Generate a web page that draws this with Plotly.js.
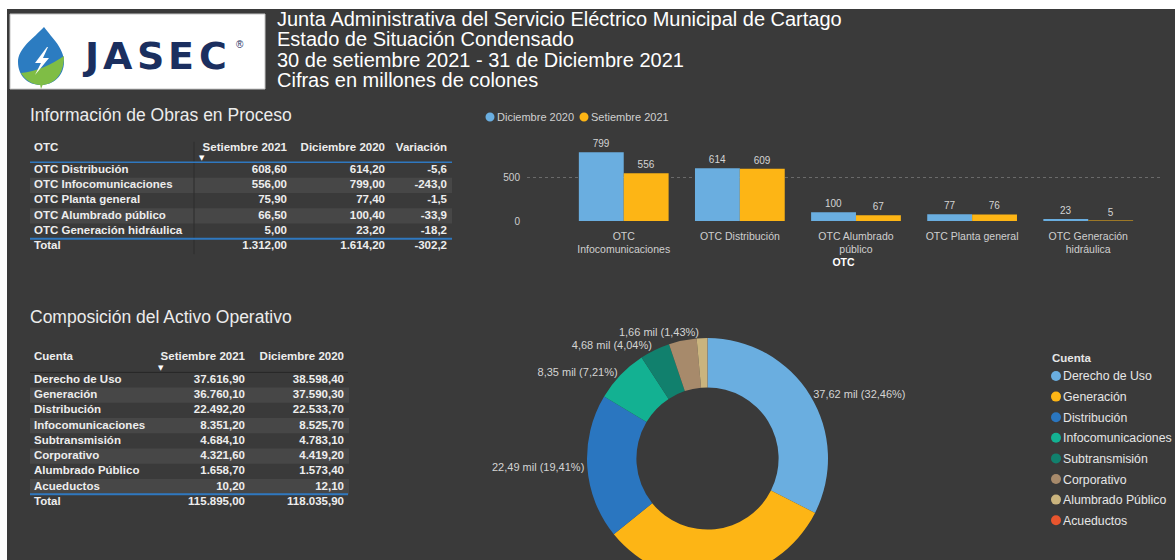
<!DOCTYPE html>
<html><head><meta charset="utf-8">
<script src="https://cdn.plot.ly/plotly-3.0.1.min.js"></script>
<style>html,body{margin:0;padding:0;background:#fff;overflow:hidden;width:1175px;height:560px}#chart{width:1175px;height:600px}</style>
</head><body><div id="chart"></div><script>
// ---------- data ----------
const otcNames = ['OTC Distribución','OTC Infocomunicaciones','OTC Planta general','OTC Alumbrado público','OTC Generación hidráulica'];
const otcChartLabels = ['OTC Distribución','OTC<br>Infocomunicaciones','OTC Planta general','OTC Alumbrado<br>público','OTC Generación<br>hidráulica'];
const otcSet2021 = [608.60, 556.00, 75.90, 66.50, 5.00];
const otcDic2020 = [614.20, 799.00, 77.40, 100.40, 23.20];
const otcVariacion = [-5.6, -243.0, -1.5, -33.9, -18.2];
const otcTotal = [1312.00, 1614.20, -302.2];
const otcHeaders = ['OTC','Setiembre 2021','Diciembre 2020','Variación'];
const seriesNames = ['Diciembre 2020','Setiembre 2021'];
const yTicks = [0, 500];

const cuentaNames = ['Derecho de Uso','Generación','Distribución','Infocomunicaciones','Subtransmisión','Corporativo','Alumbrado Público','Acueductos'];
const cuentaSet2021 = [37616.90, 36760.10, 22492.20, 8351.20, 4684.10, 4321.60, 1658.70, 10.20];
const cuentaDic2020 = [38598.40, 37590.30, 22533.70, 8525.70, 4783.10, 4419.20, 1573.40, 12.10];
const cuentaTotal = [115895.00, 118035.90];
const cuentaHeaders = ['Cuenta','Setiembre 2021','Diciembre 2020'];
const donutLabelShown = [true,true,true,true,true,false,true,false];

const titleLines = ['Junta Administrativa del Servicio Eléctrico Municipal de Cartago','Estado de Situación Condensado','30 de setiembre 2021 - 31 de Diciembre 2021','Cifras en millones de colones'];

// ---------- style / layout constants ----------
const W=1175, H=600;
const X=p=>p/W, Y=p=>1-p/H;
const BG='#3a3a3a', STRIPE='#474747', F='Liberation Sans, Arial, sans-serif';
const BLUE_LINE='#2f78c0';
const seriesColors = ['#6aaee0','#fdb515'];
const cuentaColors = ['#6aaee0','#fdb515','#2a76c0','#13b192','#11806d','#a78a6b','#cab47e','#e8552e'];
const TBL1 = {left:30, right:455, top:134, bottom:262, row0:170, rowH:15.3, headerRow:-1.44, colX:[34,287,385,447]};
const TBL2 = {left:30, right:352, top:344, bottom:515, row0:380, rowH:15.25, headerRow:-1.51, colX:[34,245,344]};

function fmt(v,d){const s=Math.abs(v).toFixed(d);let p=s.split('.');let i=p[0].replace(/\B(?=(\d{3})+(?!\d))/g,'.');return (v<0?'-':'')+i+(p[1]?','+p[1]:'');}
function P(str){return str.replace(/(-?\d+\.?\d*),(-?\d+\.?\d*)/g,(m,a,b)=>X(+a).toFixed(5)+','+Y(+b).toFixed(5));}

const traces = [];
const shapes = [
  {type:'rect', xref:'paper', yref:'paper', x0:X(7), x1:1, y0:0, y1:Y(9), fillcolor:BG, line:{width:0}, layer:'below'},
  {type:'rect', xref:'paper', yref:'paper', x0:X(10), x1:X(265), y0:Y(89), y1:Y(14), fillcolor:'#ffffff', line:{width:1,color:'#c4c4c4'}, layer:'below'},
  {type:'path', xref:'paper', yref:'paper', path:P('M44,27 C52,38 64,48 64,62 C64,76 53,85 41,85 C28,85 18,76 18,62 C18,48 34,38 44,27 Z'), fillcolor:'#2c7cc1', line:{width:0}, layer:'below'},
  {type:'path', xref:'paper', yref:'paper', path:P('M64,56 C64,76 53,85 41,85 C32,85 25,80 21,73 C36,72 52,64 64,56 Z'), fillcolor:'#7fbd45', line:{width:0}, layer:'below'},
  {type:'path', xref:'paper', yref:'paper', path:P('M40,84 L41,89 L43,84 Z'), fillcolor:'#7fbd45', line:{width:0}, layer:'below'},
  {type:'path', xref:'paper', yref:'paper', path:P('M47,47 L35,63 L41,63 L35,75 L49,58 L43,58 L48,47 Z'), fillcolor:'#ffffff', line:{width:0}, layer:'below'}
];
const ann = [];

// ---------- bar chart ----------
const order = otcDic2020.map((v,i)=>i).sort((a,b)=>otcDic2020[b]-otcDic2020[a]);
const barCats = order.map(i=>otcChartLabels[i]);
const barSeries = [order.map(i=>otcDic2020[i]), order.map(i=>otcSet2021[i])];
barSeries.forEach((ys,k)=>traces.push({
  type:'bar', x:barCats, y:ys, name:seriesNames[k], marker:{color:seriesColors[k]},
  texttemplate:'%{y:.0f}', textposition:'outside', constraintext:'none', cliponaxis:false,
  textfont:{family:F,size:10,color:'#d4d4d4'}, hoverinfo:'skip', xaxis:'x', yaxis:'y'
}));
// bar legend
const barLegendX = [490, 584];
seriesNames.forEach((n,k)=>{
  shapes.push({type:'circle', xref:'paper', yref:'paper', xsizemode:'pixel', ysizemode:'pixel', xanchor:X(barLegendX[k]), yanchor:Y(117), x0:-4.5,x1:4.5,y0:-4.5,y1:4.5, fillcolor:seriesColors[k], line:{width:0}});
  ann.push({xref:'paper',yref:'paper',x:X(barLegendX[k]+5),y:Y(117.5),xanchor:'left',yanchor:'middle',showarrow:false,text:n,font:{family:F,size:11,color:'#d0d0d0'}});
});

// ---------- tables (text traces on hidden axes, one row per index) ----------
function addTable(T, headers, cols, nData, xa, ya) {
  const ys = [T.headerRow, ...cols[0].map((v,i)=>i)];
  cols.forEach((col,c)=>traces.push({
    type:'scatter', mode:'text', xaxis:xa, yaxis:ya, x:ys.map(()=>T.colX[c]), y:ys,
    text:[headers[c], ...col], textposition: c===0?'middle right':'middle left', cliponaxis:false,
    textfont:{family:F,size:11.5,color:'#ededed',weight:'bold'}, hoverinfo:'skip'
  }));
  for(let i=0;i<nData;i++) if(i%2===1) shapes.push({type:'rect', xref:'paper', yref:ya, x0:X(T.left), x1:X(T.right-3), y0:i-0.5, y1:i+0.5, fillcolor:STRIPE, line:{width:0}, layer:'below'});
}
const t1Cols = [
  [...otcNames,'Total'],
  [...otcSet2021.map(v=>fmt(v,2)), fmt(otcTotal[0],2)],
  [...otcDic2020.map(v=>fmt(v,2)), fmt(otcTotal[1],2)],
  [...otcVariacion.map(v=>fmt(v,1)), fmt(otcTotal[2],1)]
];
addTable(TBL1, otcHeaders, t1Cols, otcNames.length, 'x2', 'y2');
shapes.push({type:'line', xref:'paper', yref:'y2', x0:X(30), x1:X(452), y0:-0.5, y1:-0.5, line:{color:BLUE_LINE,width:1.5}});
shapes.push({type:'line', xref:'paper', yref:'y2', x0:X(30), x1:X(452), y0:otcNames.length-0.5, y1:otcNames.length-0.5, line:{color:BLUE_LINE,width:2}});
shapes.push({type:'line', xref:'paper', yref:'y2', x0:X(194), x1:X(194), y0:TBL1.headerRow-0.4, y1:otcNames.length+0.5, line:{color:'#2c2c2c',width:1}, layer:'below'});

const t2Cols = [
  [...cuentaNames,'Total'],
  [...cuentaSet2021.map(v=>fmt(v,2)), fmt(cuentaTotal[0],2)],
  [...cuentaDic2020.map(v=>fmt(v,2)), fmt(cuentaTotal[1],2)]
];
addTable(TBL2, cuentaHeaders, t2Cols, cuentaNames.length, 'x3', 'y3');
shapes.push({type:'line', xref:'paper', yref:'y3', x0:X(30), x1:X(348), y0:-0.5, y1:-0.5, line:{color:'#262626',width:1}});
shapes.push({type:'line', xref:'paper', yref:'y3', x0:X(30), x1:X(348), y0:cuentaNames.length-0.5, y1:cuentaNames.length-0.5, line:{color:BLUE_LINE,width:2}});

// sort arrows
ann.push({xref:'paper',yref:'paper',x:X(202),y:Y(158),xanchor:'center',yanchor:'middle',showarrow:false,text:'▼',font:{family:'DejaVu Sans',size:7,color:'#ffffff'}});
ann.push({xref:'paper',yref:'paper',x:X(161),y:Y(368),xanchor:'center',yanchor:'middle',showarrow:false,text:'▼',font:{family:'DejaVu Sans',size:7,color:'#ffffff'}});

// ---------- donut ----------
const donutText = cuentaSet2021.map(v=>fmt(v/1000,2)+' mil');
traces.push({
  type:'pie', labels:cuentaNames, values:cuentaSet2021, text:donutText,
  texttemplate: donutLabelShown.map(s=> s?'%{text} (%{percent:.2%})':''),
  textposition:'outside', textfont:{family:F,size:11,color:'#d4d4d4'},
  hole:0.59, sort:false, direction:'clockwise', rotation:0,
  marker:{colors:cuentaColors, line:{width:0}},
  domain:{x:[X(587),X(828)], y:[Y(579),Y(338)]}, showlegend:false, hoverinfo:'skip', automargin:false
});
// donut legend
ann.push({xref:'paper',yref:'paper',x:X(1050),y:Y(358),xanchor:'left',yanchor:'middle',showarrow:false,text:'<b>Cuenta</b>',font:{family:F,size:11.5,color:'#e6e6e6'}});
cuentaNames.forEach((n,i)=>{
  const cy = 376 + i*20.6;
  shapes.push({type:'circle', xref:'paper', yref:'paper', xsizemode:'pixel', ysizemode:'pixel', xanchor:X(1056), yanchor:Y(cy), x0:-5,x1:5,y0:-5,y1:5, fillcolor:cuentaColors[i], line:{width:0}});
  ann.push({xref:'paper',yref:'paper',x:X(1061),y:Y(cy+0.5),xanchor:'left',yanchor:'middle',showarrow:false,text:n,font:{family:F,size:12.3,color:'#e6e6e6'}});
});

// ---------- titles ----------
titleLines.forEach((t,i)=>ann.push({xref:'paper',yref:'paper',x:X(275),y:Y(19+i*20.4),xanchor:'left',yanchor:'middle',showarrow:false,text:t,font:{family:F,size:20,color:'#ffffff'}}));
const logoLetters = ['J','A','S','E','C'], logoX = [90,118,150,181,213];
logoLetters.forEach((l,i)=>ann.push({xref:'paper',yref:'paper',x:X(logoX[i]),y:Y(56),xanchor:'center',yanchor:'middle',showarrow:false,text:'<b>'+l+'</b>',font:{family:'DejaVu Sans',size:38,color:'#1b2f5f'}}));
ann.push({xref:'paper',yref:'paper',x:X(240),y:Y(44),xanchor:'center',yanchor:'middle',showarrow:false,text:'®',font:{family:F,size:10,color:'#1b2f5f'}});
ann.push({xref:'paper',yref:'paper',x:X(28),y:Y(115),xanchor:'left',yanchor:'middle',showarrow:false,text:'Información de Obras en Proceso',font:{family:F,size:17.5,color:'#ececec'}});
ann.push({xref:'paper',yref:'paper',x:X(28),y:Y(317),xanchor:'left',yanchor:'middle',showarrow:false,text:'Composición del Activo Operativo',font:{family:F,size:17.5,color:'#ececec'}});

const hiddenAx = (d,r)=>({domain:d, range:r, visible:false, fixedrange:true});
const layout = {
  width:W, height:H, margin:{l:0,r:0,t:0,b:0}, paper_bgcolor:'#ffffff', plot_bgcolor:'rgba(0,0,0,0)',
  font:{family:F,color:'#d0d0d0'}, separators:',.', showlegend:false,
  barmode:'group', bargap:0.227, bargroupgap:0,
  xaxis:{domain:[X(527),X(1160)], type:'category', range:[-0.833,4.618], showgrid:false, zeroline:false, showline:false, ticks:'',
    ticklabelstandoff:7, tickfont:{family:F,size:10.5,color:'#cfcfcf'},
    title:{text:'<b>OTC</b>', font:{family:F,size:10.5,color:'#ffffff'}, standoff:4}},
  yaxis:{domain:[Y(221),Y(128)], range:[0,1081], tickvals:yTicks, showgrid:true, griddash:'dot', gridcolor:'#6a6a6a', gridwidth:1,
    zeroline:false, showline:false, ticks:'', ticklabelstandoff:6, tickfont:{family:F,size:10,color:'#cfcfcf'}},
  xaxis2:hiddenAx([X(TBL1.left),X(TBL1.right)],[TBL1.left,TBL1.right]),
  yaxis2:hiddenAx([Y(TBL1.bottom),Y(TBL1.top)],[(TBL1.bottom-TBL1.row0)/TBL1.rowH,(TBL1.top-TBL1.row0)/TBL1.rowH]),
  xaxis3:hiddenAx([X(TBL2.left),X(TBL2.right)],[TBL2.left,TBL2.right]),
  yaxis3:hiddenAx([Y(TBL2.bottom),Y(TBL2.top)],[(TBL2.bottom-TBL2.row0)/TBL2.rowH,(TBL2.top-TBL2.row0)/TBL2.rowH]),
  shapes:shapes, annotations:ann
};
Plotly.newPlot('chart', traces, layout, {staticPlot:true, displayModeBar:false});
</script></body></html>
